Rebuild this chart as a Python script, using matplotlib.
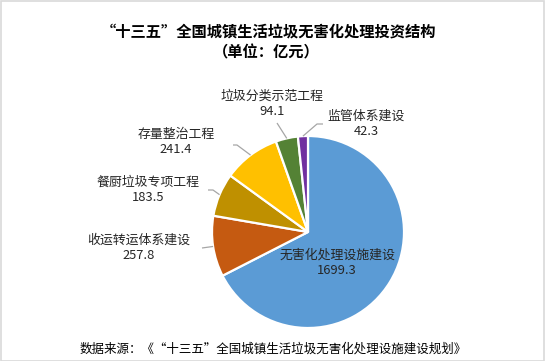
import matplotlib
matplotlib.use("Agg")
import matplotlib.pyplot as plt
import numpy as np
from matplotlib.patches import Rectangle

plt.rcParams['font.family'] = ['Noto Sans CJK SC', 'DejaVu Sans']

categories = ['无害化处理设施建设', '收运转运体系建设', '餐厨垃圾专项工程',
              '存量整治工程', '垃圾分类示范工程', '监管体系建设']
values = [1699.3, 257.8, 183.5, 241.4, 94.1, 42.3]
colors = ['#5B9BD5', '#C55A11', '#BF9000', '#FFC000', '#548235', '#7030A0']
title1 = '“十三五”全国城镇生活垃圾无害化处理投资结构'
title2 = '（单位：亿元）'
source = '数据来源：《“十三五”全国城镇生活垃圾无害化处理设施建设规划》'

W, H = 545, 361
fig = plt.figure(figsize=(W / 100, H / 100), dpi=100)
ax = fig.add_axes([0, 0, 1, 1])
ax.set_xlim(0, W)
ax.set_ylim(0, H)
ax.set_aspect('equal')
ax.axis('off')

def Y(y):
    return H - y

cx, cy, R = 308, 232, 96
wedges, _ = ax.pie(values, colors=colors, startangle=90, counterclock=False,
                   center=(cx, Y(cy)), radius=R, frame=True,
                   wedgeprops=dict(edgecolor='white', linewidth=1.6))
ax.set_xlim(0, W)
ax.set_ylim(0, H)
ax.axis('off')

# label layout (pixel positions of text centre) and leader elbow points
label_pos = [(337, 263), (139, 248), (148, 190), (176, 142), (272, 104), (366, 124)]
elbows = [None,
          [(202, 248)],
          [(213, 190), (208, 190)],
          [(237, 145), (233, 145)],
          [(277, 123)],
          [(317, 124), (323, 124)]]

for w, cat, val, (lx, ly), elb in zip(wedges, categories, values, label_pos, elbows):
    ax.text(lx, Y(ly), f'{cat}\n{val:.1f}', ha='center', va='center',
            fontsize=9.3, color='#262626', linespacing=1.25)
    if elb:
        ang = np.deg2rad((w.theta1 + w.theta2) / 2)
        x0 = cx + R * np.cos(ang)
        y0 = Y(cy) + R * np.sin(ang)
        xs = [x0] + [p[0] for p in elb]
        ys = [y0] + [Y(p[1]) for p in elb]
        ax.plot(xs, ys, color='#A6A6A6', lw=0.9, solid_capstyle='butt')

ax.text(268, Y(32), title1, ha='center', va='center', fontsize=11,
        fontweight='bold', color='black')
ax.text(266, Y(52), title2, ha='center', va='center', fontsize=11,
        fontweight='bold', color='black')
ax.text(273, Y(349), source, ha='center', va='center', fontsize=9,
        color='black')

ax.add_patch(Rectangle((0.5, 0.5), W - 2, H - 1.5, fill=False,
                       edgecolor='#D9D9D9', lw=1.2))

fig.savefig('out.png', dpi=100)
